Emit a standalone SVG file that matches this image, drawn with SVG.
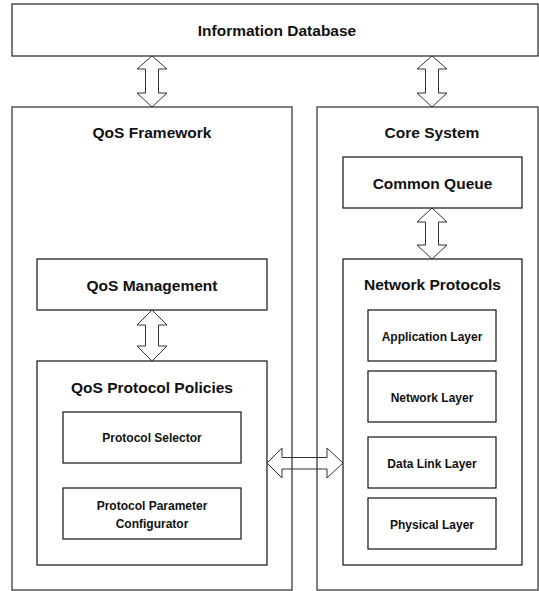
<svg xmlns="http://www.w3.org/2000/svg" width="539" height="591" viewBox="0 0 539 591">
<style>
.outer{fill:none;stroke:#555;stroke-width:1.5}
.box{fill:#fff;stroke:#111;stroke-width:1.2}
.arrow{fill:#fff;stroke:#333;stroke-width:1}
.t{font-family:"Liberation Sans",Arial,sans-serif;font-weight:bold;fill:#111;text-anchor:middle}
.big{font-size:15.5px}
.small{font-size:12px}
</style>
<rect width="539" height="591" fill="#fff"/>
<g id="information-database">
<rect class="box" x="12" y="4" width="526" height="52" style="stroke:#222"/>
<text class="t big" x="277" y="36">Information Database</text>
</g>
<g id="qos-framework">
<rect class="outer" x="12" y="107" width="280" height="483"/>
<text class="t big" x="152" y="137.5">QoS Framework</text>
</g>
<g id="core-system">
<rect class="outer" x="317" y="107" width="221" height="483"/>
<text class="t big" x="432" y="137.5">Core System</text>
</g>
<g id="common-queue">
<rect class="box" x="343" y="157" width="179" height="51"/>
<text class="t big" x="432.5" y="188.5">Common Queue</text>
</g>
<g id="qos-management">
<rect class="box" x="37" y="259" width="230" height="51"/>
<text class="t big" x="152" y="290.5">QoS Management</text>
</g>
<g id="qos-protocol-policies">
<rect class="box" x="37" y="361" width="230" height="204"/>
<text class="t big" x="152" y="392.5">QoS Protocol Policies</text>
</g>
<g id="protocol-selector">
<rect class="box" x="63" y="412" width="178" height="51"/>
<text class="t small" x="152" y="441.5">Protocol Selector</text>
</g>
<g id="protocol-parameter-configurator">
<rect class="box" x="63" y="488" width="178" height="51"/>
<text class="t small" x="152" y="509.5">Protocol Parameter</text>
<text class="t small" x="152" y="527.5">Configurator</text>
</g>
<g id="network-protocols">
<rect class="box" x="343" y="259" width="179" height="306"/>
<text class="t big" x="432.5" y="289.5">Network Protocols</text>
</g>
<g id="application-layer">
<rect class="box" x="368" y="310" width="128" height="51"/>
<text class="t small" x="432" y="340.5">Application Layer</text>
</g>
<g id="network-layer">
<rect class="box" x="368" y="371" width="128" height="51"/>
<text class="t small" x="432" y="401.5">Network Layer</text>
</g>
<g id="data-link-layer">
<rect class="box" x="368" y="437" width="128" height="51"/>
<text class="t small" x="432" y="467.5">Data Link Layer</text>
</g>
<g id="physical-layer">
<rect class="box" x="368" y="498" width="128" height="51"/>
<text class="t small" x="432" y="528.5">Physical Layer</text>
</g>
<g id="connectors">
<path class="arrow" d="M152,56 L167,69 L158.5,69 L158.5,93 L167,93 L152,107 L137,93 L145.5,93 L145.5,69 L137,69 Z"/>
<path class="arrow" d="M432,56 L447,69 L438.5,69 L438.5,93 L447,93 L432,107 L417,93 L425.5,93 L425.5,69 L417,69 Z"/>
<path class="arrow" d="M432,208 L447,222 L438.5,222 L438.5,245 L447,245 L432,259 L417,245 L425.5,245 L425.5,222 L417,222 Z"/>
<path class="arrow" d="M152,310 L167,325 L158.5,325 L158.5,346 L167,346 L152,361 L137,346 L145.5,346 L145.5,325 L137,325 Z"/>
<path class="arrow" style="fill:none" d="M267,463 L282,448 L282,457.5 L327,457.5 L327,448 L343,463 L327,478 L327,469 L282,469 L282,478 Z"/>
</g>
</svg>
